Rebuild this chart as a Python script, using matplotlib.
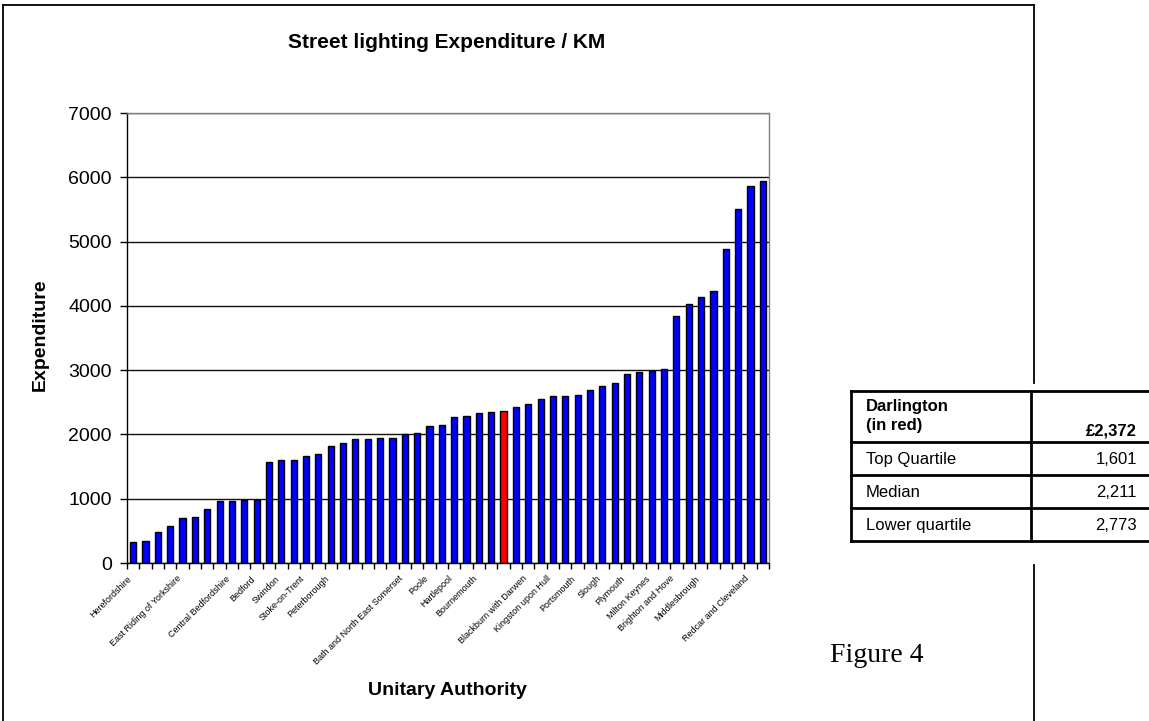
import numpy as np
import matplotlib
matplotlib.use("Agg")
import matplotlib.pyplot as plt
from matplotlib.lines import Line2D

plt.rcParams['font.family'] = ['Liberation Sans', 'DejaVu Sans']

# ---------------- data ----------------
expenditure = [327, 348, 478, 571, 696, 712, 842, 961, 961, 977,
               977, 1574, 1595, 1595, 1657, 1694, 1818, 1860, 1922, 1922,
               1943, 1943, 2000, 2021, 2128, 2145, 2265, 2286, 2327, 2348,
               2372, 2431, 2468, 2551, 2592, 2592, 2613, 2696, 2758, 2800,
               2945, 2966, 2987, 3023, 3844, 4026, 4130, 4229, 4878, 5512,
               5865, 5943]
highlight_index = 30  # Darlington (red)

# readable category labels (others unreadable in the source)
label_positions = [1, 5, 9, 11, 13, 15, 17, 23, 25, 27, 29, 33, 35, 37, 39,
                   41, 43, 45, 47, 51]
label_names = ["Herefordshire", "East Riding of Yorkshire", "Central Bedfordshire",
               "Bedford", "Swindon", "Stoke-on-Trent", "Peterborough",
               "Bath and North East Somerset", "Poole", "Hartlepool",
               "Bournemouth", "Blackburn with Darwen", "Kingston upon Hull",
               "Portsmouth", "Slough", "Plymouth", "Milton Keynes",
               "Brighton and Hove", "Middlesbrough", "Redcar and Cleveland"]

yticks = [0, 1000, 2000, 3000, 4000, 5000, 6000, 7000]

table_labels = ["Darlington\n(in red)", "Top Quartile", "Median", "Lower quartile"]
table_values = ["£2,372", "1,601", "2,211", "2,773"]

# ---------------- figure ----------------
W, H = 1149, 721
fig = plt.figure(figsize=(W / 100, H / 100), dpi=100)
fig.patch.set_facecolor('white')

def fx(px):
    return px / W

def fy(py):
    return 1 - py / H

ax = fig.add_axes([fx(127), fy(563), 642 / W, 450 / H])

n = len(expenditure)
x = np.arange(n)
labels = [""] * n
for pos, name in zip(label_positions, label_names):
    labels[pos - 1] = name
colors = ['#0000FF'] * n
colors[highlight_index] = '#FF0000'

ax.bar(x, expenditure, width=0.5, color=colors, edgecolor='black',
       linewidth=1.0, zorder=3)

ax.set_xlim(-0.5, n - 0.5)
ax.set_ylim(0, 7000)
ax.set_yticks(yticks)
ax.set_yticklabels([str(v) for v in yticks], fontsize=14)
ax.yaxis.grid(True, color='#111111', linewidth=1.0, zorder=0)
ax.set_axisbelow(True)

ax.set_xticks(x)
ax.set_xticklabels(labels, rotation=45, ha='right', fontsize=6.5)
ax.set_xticks(np.arange(-0.5, n, 1), minor=True)
ax.tick_params(axis='x', which='major', length=0, pad=8)
ax.tick_params(axis='x', which='minor', length=4, direction='out', width=1)
ax.tick_params(axis='y', length=5, direction='out', width=1, pad=6)

for s in ['top', 'right']:
    ax.spines[s].set_color('#808080')
    ax.spines[s].set_linewidth(1.0)
for s in ['left', 'bottom']:
    ax.spines[s].set_color('black')
    ax.spines[s].set_linewidth(1.0)

ax.set_ylabel('Expenditure', fontsize=14, fontweight='bold')
ax.yaxis.set_label_coords((49 - 127) / 642, 0.507)
ax.set_xlabel('Unitary Authority', fontsize=14, fontweight='bold')
ax.xaxis.set_label_coords((447 - 127) / 642, -(682 - 563) / 450)

fig.text(fx(447), fy(43), 'Street lighting Expenditure / KM', fontsize=15,
         fontweight='bold', ha='center', va='center')

# outer frame
lw = 1.3
fig.add_artist(Line2D([fx(3), fx(3)], [fy(5), fy(721)], color='black', lw=lw))
fig.add_artist(Line2D([fx(3), fx(1034)], [fy(5), fy(5)], color='black', lw=lw))
fig.add_artist(Line2D([fx(1034), fx(1034)], [fy(5), fy(383)], color='black', lw=lw))
fig.add_artist(Line2D([fx(1034), fx(1034)], [fy(565), fy(721)], color='black', lw=lw))

# summary table
tx0, tx1, tdiv = 851, 1160, 1031
row_y = [391, 442, 475, 508, 541]
tlw = 2.0
for yy in row_y:
    fig.add_artist(Line2D([fx(tx0), fx(tx1)], [fy(yy), fy(yy)], color='black', lw=tlw))
for xx in [tx0, tdiv]:
    fig.add_artist(Line2D([fx(xx), fx(xx)], [fy(row_y[0]), fy(row_y[-1])], color='black', lw=tlw))

for i, (lab, val) in enumerate(zip(table_labels, table_values)):
    if i == 0:
        fig.text(fx(866), fy(416), lab, fontsize=12, fontweight='bold',
                 ha='left', va='center', linespacing=1.3)
        fig.text(fx(1137), fy(431), val, fontsize=12, fontweight='bold',
                 ha='right', va='center')
    else:
        yc = (row_y[i] + row_y[i + 1]) / 2 + 1
        fig.text(fx(866), fy(yc), lab, fontsize=12, ha='left', va='center')
        fig.text(fx(1137), fy(yc), val, fontsize=12, ha='right', va='center')

fig.text(fx(830), fy(656), 'Figure 4', fontsize=20, family='Liberation Serif',
         ha='left', va='center')

fig.savefig('out.png', dpi=100)
